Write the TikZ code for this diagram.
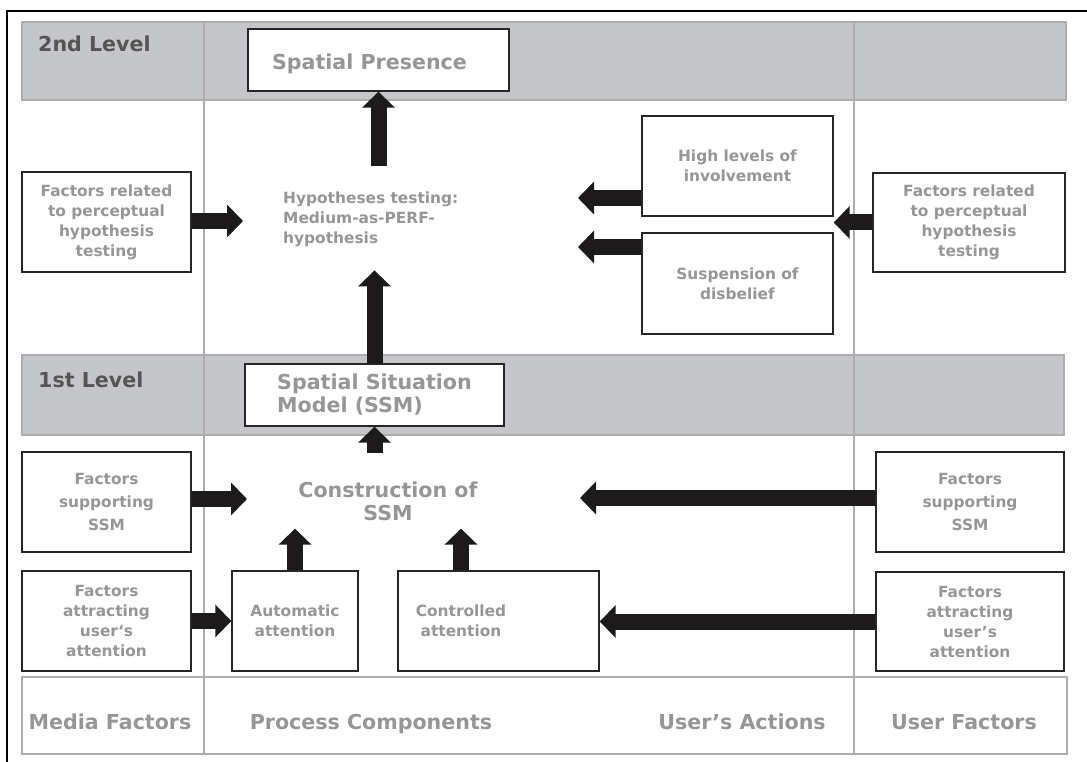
\documentclass[tikz,border=0pt]{standalone}
\usepackage{fontspec}
\setmainfont{DejaVu Sans}
\usepackage{xcolor}
\usepackage{tikz}
\usetikzlibrary{arrows.meta,calc,positioning}
\definecolor{bandgray}{HTML}{C5C6C9}
\definecolor{linegray}{HTML}{ADADAD}
\definecolor{textgray}{HTML}{969696}
\definecolor{levelgray}{HTML}{555555}
\definecolor{arrowblack}{HTML}{1C1A1A}
\newcommand{\txtsmall}{\fontsize{15.4}{20}\selectfont\bfseries}
\newcommand{\txtsup}{\fontsize{15.4}{23}\selectfont\bfseries}
\newcommand{\txtbig}{\fontsize{20.6}{23}\selectfont\bfseries}
\tikzset{%
	band/.style       = {fill=bandgray, draw=linegray, line width=1.5pt},
	divider/.style    = {draw=linegray, line width=1.5pt},
	box/.style        = {draw=black!85, rectangle, line width=1.4pt, fill=white, text=textgray, align=center, font=\txtsmall, inner sep=0pt},
	bigbox/.style     = {box, font=\txtbig},
	supbox/.style     = {box, font=\txtsup},
	plaintext/.style  = {text=textgray, inner sep=0pt},
	levelname/.style  = {text=levelgray, font=\txtbig, anchor=base west, inner sep=0pt},
	colcaption/.style = {text=textgray, font=\txtbig, anchor=base, inner sep=0pt},
	blockarrow/.style = {draw=arrowblack, line width=16pt, -{Triangle[width=32pt,length=16pt]}},
}
\begin{document}
\begin{tikzpicture}[x=1pt,y=-1pt]
	\useasboundingbox (0,0) rectangle (1087,762);
	\draw[line width=2pt] (1087,11) -- (7,11) -- (7,762);  % frame
	
	\path[band] (22,22) rectangle (1066,100);  % 2nd level
	\path[band] (22,355) rectangle (1064,435);  % 1st level
	\path[divider] (22,677) rectangle (1067,754);  % bottom row
	\draw[divider] (204,22) -- (204,754);
	\draw[divider] (854,22) -- (854,754);
	
	\node[levelname] (lvltwo) at (38,52) {2nd Level};
	\node[levelname] (lvlone) at (38,387) {1st Level};
	
	\node[bigbox, minimum width=261pt, minimum height=62pt, text height=20pt, text depth=0pt] (sp) at (378.5,60) {Spatial Presence\hspace*{18pt}};
	\node[plaintext, font=\txtsmall, align=left, anchor=north west] (hyp) at (283,192) {Hypotheses testing:\\Medium-as-PERF-\\hypothesis};
	\node[box, minimum width=169pt, minimum height=100pt] (lhyp) at (106.5,222) {Factors related\\to perceptual\\hypothesis\\testing};
	\node[box, minimum width=191pt, minimum height=100pt] (inv) at (737.5,166) {High levels of\\involvement};
	\node[box, minimum width=191pt, minimum height=101pt] (sod) at (737.5,283.5) {Suspension of\\disbelief};
	\node[box, minimum width=192pt, minimum height=99pt] (rhyp) at (969,222.5) {Factors related\\to perceptual\\hypothesis\\testing};
	
	\node[bigbox, align=left, minimum width=259pt, minimum height=62pt] (ssm) at (374.5,395) {Spatial Situation\\Model (SSM)};
	\node[plaintext, font=\txtbig, align=center] (con) at (388,501) {Construction of\\SSM};
	\node[supbox, minimum width=169pt, minimum height=100pt] (lsup) at (106.5,502) {Factors\\supporting\\SSM};
	\node[supbox, minimum width=188pt, minimum height=100pt] (rsup) at (970,502) {Factors\\supporting\\SSM};
	
	\node[box, minimum width=169pt, minimum height=100pt] (latt) at (106.5,621) {Factors\\attracting\\user‘s\\attention};
	\node[box, minimum width=126pt, minimum height=100pt] (aut) at (295,621) {Automatic\\attention};
	\node[box, minimum width=201pt, minimum height=100pt] (ctl) at (498.5,621) {};
	\node[plaintext, font=\txtsmall, align=center] (ctltext) at (461,621) {Controlled\\attention};
	\node[box, minimum width=188pt, minimum height=99pt] (ratt) at (970,621.5) {Factors\\attracting\\user’s\\attention};
	
	\node[colcaption] (media) at (110,729) {Media Factors};
	\node[colcaption] (proc) at (371,729) {Process Components};
	\node[colcaption] (acts) at (742,729) {User’s Actions};
	\node[colcaption] (userf) at (964,729) {User Factors};
	
	% free arrow ends
	\coordinate (hypin) at (243,221);
	\coordinate (invout) at (578,198);
	\coordinate (sodout) at (578,247);
	\coordinate (supin) at (247,499);
	\coordinate (supout) at (580,498);
	
	\draw[blockarrow, shorten <=26pt] (hyp.north -| sp.south) -- (sp.south);
	\draw[blockarrow, shorten >=23pt] (ssm.north) -- (ssm.north |- hyp.south);
	\draw[blockarrow] (lhyp.east |- hypin) -- (hypin);
	\draw[blockarrow] (inv.west |- invout) -- (invout);
	\draw[blockarrow] (sod.west |- sodout) -- (sodout);
	\draw[blockarrow] (rhyp.west) -- (rhyp.west -| inv.east);
	
	\draw[blockarrow, shorten <=28pt] (ssm.south |- con.north) -- (ssm.south);
	\draw[blockarrow] (lsup.east |- supin) -- (supin);
	\draw[blockarrow] (rsup.west |- supout) -- (supout);
	\draw[blockarrow] (latt) -- (aut);
	\draw[blockarrow, shorten >=8pt] (aut.north) -- (aut.north |- con.south);
	\draw[blockarrow, shorten >=8pt] (ctltext |- ctl.north) -- (ctltext |- con.south);
	\draw[blockarrow] (ratt.west) -- (ratt.west -| ctl.east);
\end{tikzpicture}
\end{document}
